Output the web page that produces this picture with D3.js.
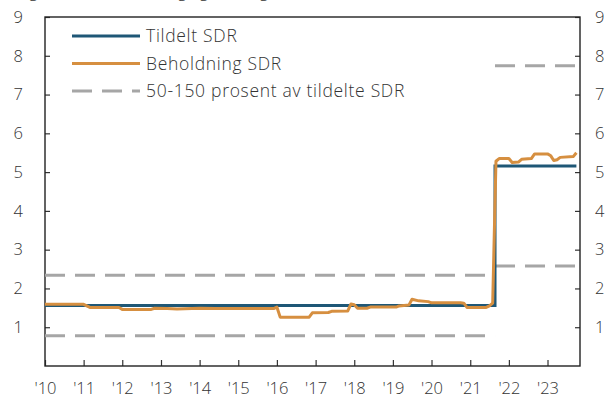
<!DOCTYPE html>
<html>
<head>
<meta charset="utf-8">
<script src="https://cdnjs.cloudflare.com/ajax/libs/d3/7.8.5/d3.min.js"></script>
<style>
	body { margin: 0; background: #fff; }
	text { font-family: "Open Sans", Lato, sans-serif; font-weight: 300; fill: #333; }
</style>
</head>
<body>
<script>
//chart values (milliarder SDR)
var tildeltDates = ["2010-01-01","2021-08-23","2021-08-23","2023-10-01"];
var tildeltValues = [1.56, 1.56, 5.16, 5.16];

var beholdningDates = ["2010-01","2011-01","2011-03","2011-12","2012-01","2012-10","2012-11","2013-03",
	"2013-06","2014-01","2014-06","2015-12","2016-01","2016-02","2016-11","2016-12","2017-05","2017-06",
	"2017-11","2017-12","2018-01","2018-02","2018-05","2018-06","2019-02","2019-03","2019-06","2019-07",
	"2019-09","2019-12","2020-01","2020-10","2020-11","2020-12","2021-05","2021-06","2021-07","2021-08",
	"2021-09","2021-10","2022-01","2022-02","2022-04","2022-05","2022-08","2022-09","2023-01","2023-02",
	"2023-03","2023-04","2023-05","2023-09","2023-10"];
var beholdningValues = [1.59,1.59,1.51,1.51,1.46,1.46,1.49,1.48,
	1.47,1.49,1.48,1.48,1.52,1.26,1.26,1.37,1.38,1.41,
	1.42,1.60,1.58,1.49,1.49,1.52,1.52,1.55,1.57,1.72,
	1.68,1.66,1.63,1.63,1.62,1.51,1.51,1.51,1.55,1.62,
	5.28,5.35,5.35,5.25,5.26,5.33,5.35,5.47,5.47,5.42,
	5.30,5.32,5.38,5.40,5.50];

//50 and 150 prosent of tildelt, before and after the 2021 allocation
var bandStarts = ["2010-01-01","2021-08-23"];
var bandEnds = ["2021-08-23","2023-09-20"];
var bandLow = [0.78, 2.58];
var bandHigh = [2.34, 7.74];

var yTicks = [1,2,3,4,5,6,7,8,9];
var xTickYears = [2010,2011,2012,2013,2014,2015,2016,2017,2018,2019,2020,2021,2022,2023];

var legendLabels = ["Tildelt SDR","Beholdning SDR","50-150 prosent av tildelte SDR"];

var w = 613, h = 401,
	plotL = 45, plotR = 580, plotT = 17, plotB = 366,
	blue = "rgb(30,87,118)", orange = "rgb(214,143,64)", grey = "rgb(166,166,166)";

var parse = d3.timeParse("%Y-%m-%d"),
	parseMonth = d3.timeParse("%Y-%m");

var x = d3.scaleTime()
	.domain([new Date(2010,0,1), new Date(2023,10,4)])
	.range([plotL, plotR]);

var y = d3.scaleLinear()
	.domain([0, 9])
	.range([plotB, plotT]);

var svg = d3.select("body").append("svg")
	.attr("width", w)
	.attr("height", h);

//title sits above the picture, only the descenders show
svg.append("text")
	.attr("x", 2)
	.attr("y", -3)
	.style("font-size", "16px")
	.text("Norges Banks beholdning og tildeling av SDR");

//axes, ticks point inward
var yearTicks = xTickYears.map(function(yr){ return new Date(yr,0,1); });

svg.append("g")
	.attr("transform", "translate(0," + plotB + ")")
	.call(d3.axisBottom(x)
		.tickValues(yearTicks)
		.tickSize(-6)
		.tickPadding(16)
		.tickFormat(function(d){ return "'" + d3.timeFormat("%y")(d); }))
	.call(styleAxis);

svg.append("g")
	.attr("transform", "translate(" + plotL + ",0)")
	.call(d3.axisLeft(y).tickValues(yTicks).tickSize(-5).tickPadding(22))
	.call(styleAxis);

svg.append("g")
	.attr("transform", "translate(" + plotR + ",0)")
	.call(d3.axisRight(y).tickValues(yTicks).tickSize(-5).tickPadding(15))
	.call(styleAxis);

function styleAxis(g){
	g.select(".domain").remove();
	g.selectAll(".tick line").attr("stroke", "#333").attr("stroke-width", 1.2);
	g.selectAll(".tick text").attr("fill", "#333").style("font-size", "16.5px")
		.style("font-family", "\"Open Sans\", Lato, sans-serif").style("font-weight", 300);
}

//frame
svg.append("rect")
	.attr("x", plotL)
	.attr("y", plotT)
	.attr("width", plotR - plotL)
	.attr("height", plotB - plotT)
	.attr("fill", "none")
	.attr("stroke", "#222")
	.attr("stroke-width", 1.4);

//dashed band lines
bandStarts.forEach(function(s, i){
	[bandLow[i], bandHigh[i]].forEach(function(v){
		svg.append("line")
			.attr("x1", x(parse(s)))
			.attr("x2", x(parse(bandEnds[i])))
			.attr("y1", y(v))
			.attr("y2", y(v))
			.attr("stroke", grey)
			.attr("stroke-width", 3)
			.attr("stroke-dasharray", "20,10");
	});
});

var line = d3.line()
	.x(function(d){ return x(d.date); })
	.y(function(d){ return y(d.value); });

var tildelt = tildeltDates.map(function(d, i){ return {date: parse(d), value: tildeltValues[i]}; });
var beholdning = beholdningDates.map(function(d, i){ return {date: parseMonth(d), value: beholdningValues[i]}; });

svg.append("path")
	.datum(tildelt)
	.attr("d", line)
	.attr("fill", "none")
	.attr("stroke", blue)
	.attr("stroke-width", 3);

svg.append("path")
	.datum(beholdning)
	.attr("d", line)
	.attr("fill", "none")
	.attr("stroke", orange)
	.attr("stroke-width", 3)
	.attr("stroke-linejoin", "round");

//legend
var legend = svg.append("g").attr("transform", "translate(72,36)");

legendLabels.forEach(function(label, i){
	var row = legend.append("g").attr("transform", "translate(0," + (i * 27.5) + ")");
	row.append("line")
		.attr("x1", 0)
		.attr("x2", 68)
		.attr("stroke", [blue, orange, grey][i])
		.attr("stroke-width", 3)
		.attr("stroke-dasharray", i == 2 ? "20,10" : null);
	row.append("text")
		.attr("x", 74)
		.attr("y", 0)
		.attr("dy", "0.35em")
		.style("font-size", "17.5px")
		.style("letter-spacing", "0.7px")
		.text(label);
});
</script>
</body>
</html>
